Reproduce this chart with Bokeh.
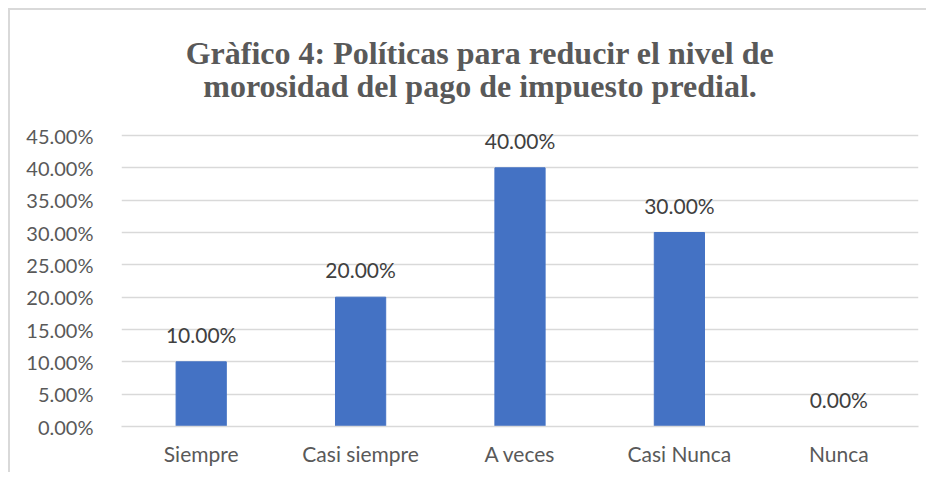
from bokeh.plotting import figure
from bokeh.models import ColumnDataSource, LabelSet, FixedTicker, NumeralTickFormatter, Label
from bokeh.core.properties import value
from bokeh.embed import file_html
from bokeh.resources import INLINE

categories = ["Siempre", "Casi siempre", "A veces", "Casi Nunca", "Nunca"]
values = [0.10, 0.20, 0.40, 0.30, 0.00]
labels = ["10.00%", "20.00%", "40.00%", "30.00%", "0.00%"]
y_ticks = [0, 0.05, 0.10, 0.15, 0.20, 0.25, 0.30, 0.35, 0.40, 0.45]
title_lines = ["Gràfico 4: Políticas para reducir el nivel de",
               "morosidad del pago de impuesto predial."]

# frame spans the whole height; the 45% gridline sits 291px above the 0 line,
# leaving room above it for the title
FRAME_H = 416
y_end = 0.45 * FRAME_H / 291

src = ColumnDataSource(dict(cat=categories, val=values, lab=labels))

p = figure(x_range=categories, y_range=(0, y_end), width=918, height=464,
           output_backend="svg", toolbar_location=None,
           min_border_left=111, min_border_right=10, min_border_top=0, min_border_bottom=48)
p.styles = {"border-top": "2px solid #d9d9d9", "border-left": "2px solid #d9d9d9",
            "margin-left": "8px", "margin-top": "8px"}

p.vbar(x="cat", top="val", width=0.315, source=src, color="#4472C4")

p.add_layout(LabelSet(x="cat", y="val", text="lab", source=src, text_align="center",
                      text_baseline="alphabetic", y_offset=19, text_font=value("Lato"),
                      text_font_size="21px", text_color="#404040"))

p.outline_line_color = None
p.xgrid.grid_line_color = None
p.ygrid.grid_line_color = "#d9d9d9"
p.ygrid.grid_line_width = 1.5
p.yaxis.ticker = FixedTicker(ticks=y_ticks)
p.yaxis.formatter = NumeralTickFormatter(format="0.00%")
p.yaxis.axis_line_color = None
p.yaxis.major_tick_line_color = None
p.yaxis.minor_tick_line_color = None
p.yaxis.major_label_standoff = 22
p.xaxis.axis_line_color = "#d9d9d9"
p.xaxis.axis_line_width = 1.5
p.xaxis.major_tick_line_color = None
p.xaxis.major_label_standoff = 8
p.xaxis.major_label_text_font_size = "21px"
p.yaxis.major_label_text_font_size = "20px"
for ax in (p.xaxis, p.yaxis):
    ax.major_label_text_font = "Lato"
    ax.major_label_text_color = "#595959"

# title lines placed in screen units (relative to the plot frame)
for line, ys in zip(title_lines, [374, 341]):
    p.add_layout(Label(text=line, x=358.5, y=ys, x_units="screen", y_units="screen",
                       text_align="center", text_baseline="alphabetic",
                       text_font="Liberation Serif", text_font_style="bold",
                       text_font_size="32px", text_color="#595959"))

open("out.html", "w").write(file_html(p, INLINE))
